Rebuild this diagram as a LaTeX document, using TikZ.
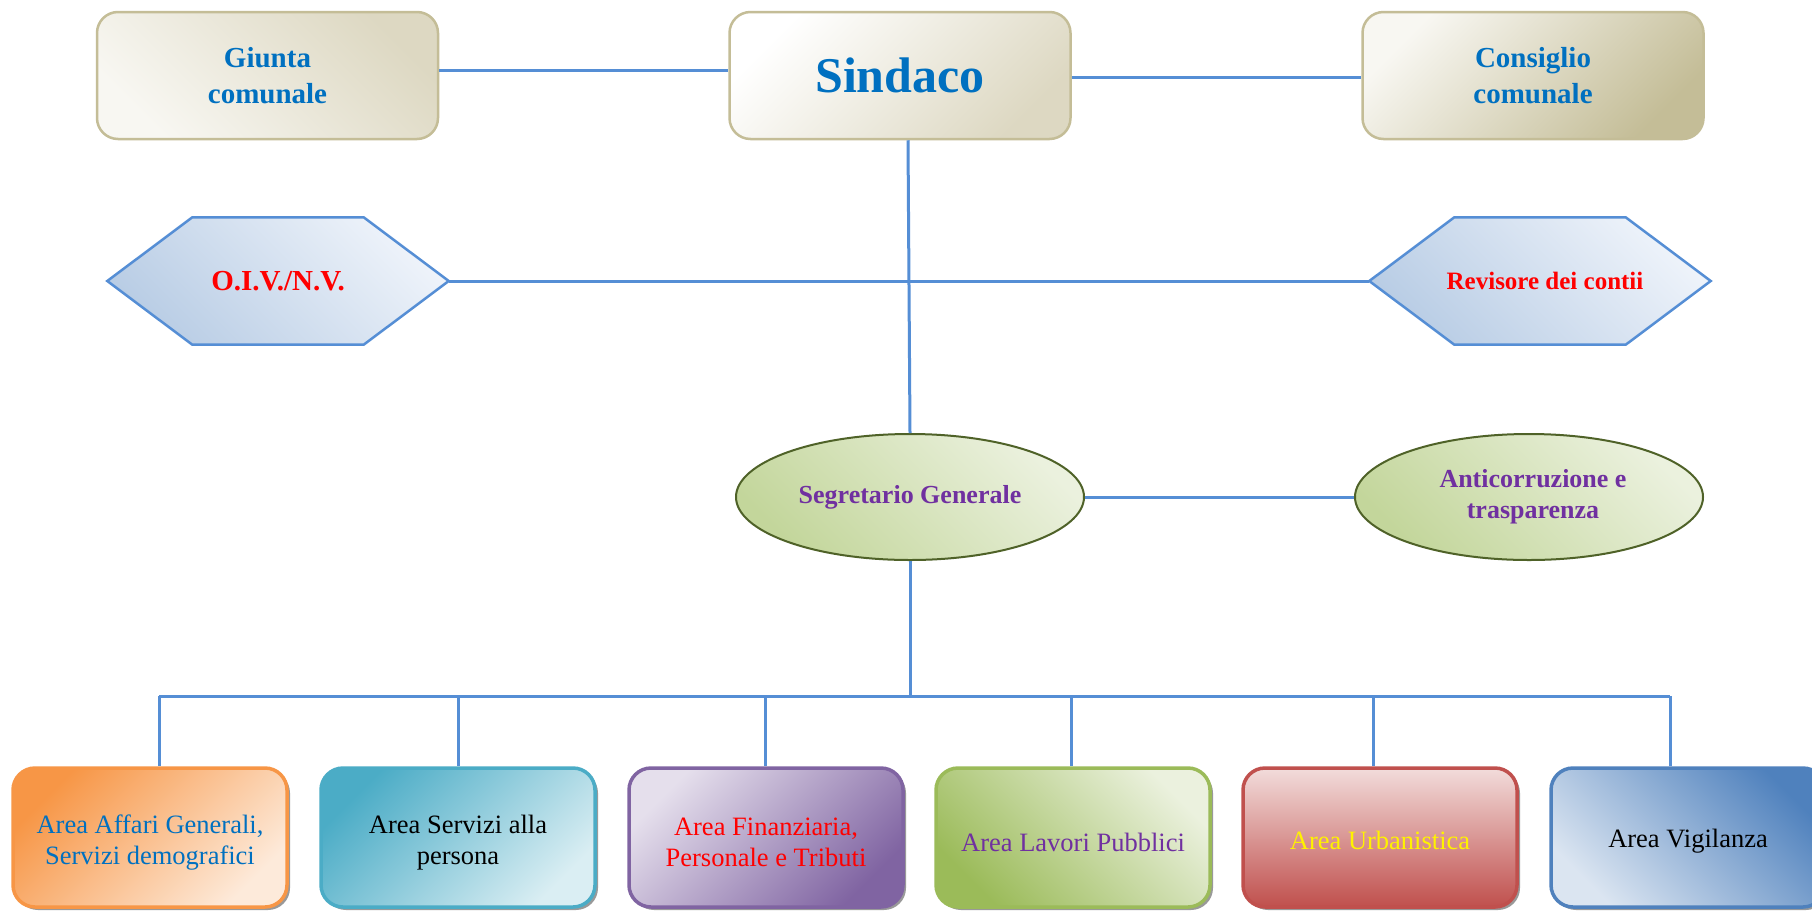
\documentclass[tikz,border=0pt]{standalone}
\usepackage{fontspec}
\setmainfont{Liberation Serif}
\usetikzlibrary{shapes.geometric,shadows,backgrounds}
\definecolor{lineblue}{HTML}{558ED5}
\definecolor{tanborder}{HTML}{C4BD97}
\definecolor{tanlight}{HTML}{F8F7F2}
\definecolor{tanmid}{HTML}{DDD8C2}
\definecolor{txtblue}{HTML}{0070C0}
\definecolor{txtpurple}{HTML}{7030A0}
\definecolor{hexborder}{HTML}{558ED5}
\definecolor{hexdark}{HTML}{B9CDE5}
\definecolor{hexlight}{HTML}{EEF3FA}
\definecolor{ellborder}{HTML}{4F6228}
\definecolor{elldark}{HTML}{C3D69B}
\definecolor{elllight}{HTML}{EBF1DE}
\definecolor{orangeA}{HTML}{F79646}
\definecolor{orangeB}{HTML}{FDEADA}
\definecolor{tealA}{HTML}{4BACC6}
\definecolor{tealB}{HTML}{DAEEF3}
\definecolor{purpA}{HTML}{8064A2}
\definecolor{purpB}{HTML}{E5DFEC}
\definecolor{greenA}{HTML}{9BBB59}
\definecolor{greenB}{HTML}{EBF1DE}
\definecolor{redA}{HTML}{C0504D}
\definecolor{redB}{HTML}{F2DCDB}
\definecolor{blueA}{HTML}{4F81BD}
\definecolor{blueB}{HTML}{DBE5F1}
\tikzset{
  conn/.style={draw=lineblue, line width=3pt},
  topbox/.style={rectangle, rounded corners=21pt, draw=tanborder, line width=2.5pt,
    minimum width=341pt, minimum height=127pt, align=center, text=txtblue,
    font=\fontsize{29}{36}\selectfont\bfseries},
  hexnode/.style={rectangle, minimum width=341pt, minimum height=127pt, inner sep=0pt,
    align=center, text=red, font=\fontsize{29}{36}\selectfont\bfseries},
  hexpath/.style={draw=hexborder, line width=2.5pt, top color=hexlight, bottom color=hexdark, shading angle=-45},
  ellnode/.style={ellipse, draw=ellborder, line width=2pt, minimum width=348pt, minimum height=126pt,
    inner sep=0pt, top color=elllight, bottom color=elldark, shading angle=-45,
    align=center, text=txtpurple, font=\fontsize{26}{31}\selectfont\bfseries},
  areabox/.style={rectangle, rounded corners=22pt, line width=3.5pt, minimum width=274pt,
    minimum height=139pt, align=center, font=\fontsize{26.5}{31}\selectfont,
    drop shadow={shadow xshift=3pt, shadow yshift=-3pt, fill=black!40, opacity=1}},
  arealabel/.style={align=center, font=\fontsize{26.5}{31}\selectfont}
}
\begin{document}
\begin{tikzpicture}[x=1pt,y=-1pt]
\clip (0,0) rectangle (1812,911);

% top row
\node[topbox, top color=tanmid, bottom color=tanlight, shading angle=-45] (giunta) at (267.5,75.5) {Giunta\\comunale};
\node[topbox, top color=white, bottom color=tanmid, shading angle=45, font=\fontsize{50}{56}\selectfont\bfseries] (sindaco) at (900,75.5) {Sindaco};
\node[topbox, top color=tanlight, bottom color=tanborder, shading angle=45] (consiglio) at (1533,75.5) {Consiglio\\comunale};

% hexagons
\node[hexnode] (oiv) at (278,281) {O.I.V./N.V.};
\node[hexnode, font=\fontsize{25}{30}\selectfont\bfseries] (rev) at (1540,281) {\hspace*{10pt}Revisore dei contii};
\begin{scope}[on background layer]
\fill[white] (0,0) rectangle (1812,911);
\path[hexpath] (oiv.west) -- ([xshift=85pt]oiv.north west) -- ([xshift=-85pt]oiv.north east)
  -- (oiv.east) -- ([xshift=-85pt]oiv.south east) -- ([xshift=85pt]oiv.south west) -- cycle;
\path[hexpath] (rev.west) -- ([xshift=85pt]rev.north west) -- ([xshift=-85pt]rev.north east)
  -- (rev.east) -- ([xshift=-85pt]rev.south east) -- ([xshift=85pt]rev.south west) -- cycle;
\end{scope}

% ellipses
\node[ellnode] (segr) at (910,497) {Segretario Generale};
\node[ellnode] (anti) at (1529,497) {\hspace*{8pt}Anticorruzione e\\\hspace*{8pt}trasparenza};

% bottom areas
\node[areabox, draw=orangeA, top color=orangeA, bottom color=orangeB, shading angle=45] (a1) at (150,837.5) {};
\node[areabox, draw=tealA, top color=tealA, bottom color=tealB, shading angle=45] (a2) at (458,837.5) {};
\node[areabox, draw=purpA, top color=purpB, bottom color=purpA, shading angle=45] (a3) at (766,837.5) {};
\node[areabox, draw=greenA, top color=greenB, bottom color=greenA, shading angle=-45] (a4) at (1073,837.5) {};
\node[areabox, draw=redA, top color=redB, middle color=redB!80!redA, bottom color=redA] (a5) at (1380,837.5) {};
\node[areabox, draw=blueA, top color=blueA, bottom color=blueB, shading angle=-45] (a6) at (1688,837.5) {};
\node[arealabel, text=txtblue] (t1) at ([yshift=-5pt]a1.center) {Area Affari Generali,\\Servizi demografici};
\node[arealabel, text=black] (t2) at ([yshift=-5pt]a2.center) {Area Servizi alla\\persona};
\node[arealabel, text=red] (t3) at ([yshift=-5pt]a3.center) {Area Finanziaria,\\Personale e Tributi};
\node[arealabel, text=txtpurple] (t4) at ([yshift=-5pt]a4.center) {Area Lavori Pubblici};
\node[arealabel, text=yellow] (t5) at ([yshift=-3pt]a5.center) {Area Urbanistica};
\node[arealabel, text=black] (t6) at ([yshift=-4pt]a6.center) {Area Vigilanza};

% connectors
\draw[conn] ([yshift=5pt]giunta.east) -- ([yshift=5pt]sindaco.west);
\draw[conn] ([yshift=-1.5pt]sindaco.east) -- ([yshift=-1.5pt]consiglio.west);
\draw[conn] (oiv.east) -- (rev.west);
\draw[conn] ([xshift=8pt]sindaco.south) -- (segr.north);
\draw[conn] (segr.east) -- (anti.west);
\coordinate (bus) at (910,696);
\draw[conn] (segr.south) -- (bus);
\coordinate (b1) at (159,696);
\coordinate (b2) at (458,696);
\coordinate (b3) at (765,696);
\coordinate (b4) at (1071,696);
\coordinate (b5) at (1373,696);
\coordinate (b6) at (1670,696);
\draw[conn] (b1) -- (b6);
\draw[conn] (b1) -- (b1 |- a1.north);
\draw[conn] (b2) -- (b2 |- a2.north);
\draw[conn] (b3) -- (b3 |- a3.north);
\draw[conn] (b4) -- (b4 |- a4.north);
\draw[conn] (b5) -- (b5 |- a5.north);
\draw[conn] (b6) -- (b6 |- a6.north);
\end{tikzpicture}
\end{document}
